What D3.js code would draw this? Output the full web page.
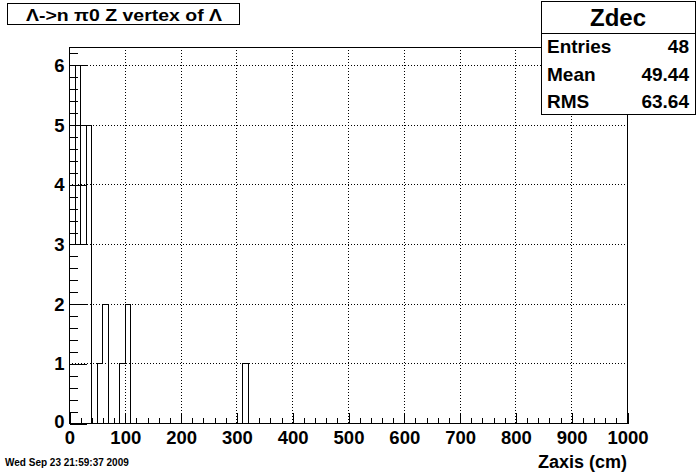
<!DOCTYPE html>
<html>
<head>
<meta charset="utf-8">
<script src="https://cdn.jsdelivr.net/npm/d3@7"></script>
<style>
  html, body { margin: 0; padding: 0; background: #fff; }
  svg { display: block; }
  text { font-family: "Liberation Sans", Arial, Helvetica, sans-serif; font-weight: bold; fill: #000; }
</style>
</head>
<body>
<svg id="chart" width="696" height="472"></svg>
<script>
// ---------------- data ----------------
const title = "\u039B->n \u03C00 Z vertex of \u039B";
const xAxisTitle = "Zaxis (cm)";
const dateText = "Wed Sep 23 21:59:37 2009";
const statsName = "Zdec";
const statsLabels = ["Entries", "Mean", "RMS"];
const statsValues = ["48", "49.44", "63.64"];
const xRange = [0, 1000];
const binWidth = 10;
// non-empty bins: lower edge (cm) and content
const binLow   = [0, 10, 20, 30, 50, 60, 90, 100, 310];
const binCount = [3,  6,  3,  5,  1,  2,  1,   2,   1];
// overlaid second outline (only a horizontal level is visible)
const overlayLow   = [10];
const overlayCount = [3];
const yMax = 6.3;
const xTickValues = [0, 100, 200, 300, 400, 500, 600, 700, 800, 900, 1000];
const yTickValues = [0, 1, 2, 3, 4, 5, 6];

// ---------------- layout ----------------
const svg = d3.select("#chart");
const L = 69, R = 627, T = 47, B = 423;
const x = d3.scaleLinear().domain(xRange).range([L, R]);
const y = d3.scaleLinear().domain([0, yMax]).range([B, T]);

// full bin array
const nBins = (xRange[1] - xRange[0]) / binWidth;
const counts = new Array(nBins).fill(0);
binLow.forEach((lo, i) => { counts[Math.round((lo - xRange[0]) / binWidth)] = binCount[i]; });

// grid
const grid = svg.append("g").attr("stroke", "#000").attr("stroke-width", 1)
  .attr("stroke-dasharray", "1,2").attr("shape-rendering", "crispEdges");
xTickValues.filter(v => v > xRange[0] && v < xRange[1]).forEach(v => {
  grid.append("line").attr("x1", Math.round(x(v)) + 0.5).attr("x2", Math.round(x(v)) + 0.5)
    .attr("y1", T).attr("y2", B);
});
yTickValues.filter(v => v > 0).forEach(v => {
  grid.append("line").attr("y1", Math.round(y(v)) + 0.5).attr("y2", Math.round(y(v)) + 0.5)
    .attr("x1", L).attr("x2", R);
});

// histogram outline (step)
const pts = [];
pts.push([xRange[0], 0]);
for (let i = 0; i < nBins; i++) {
  const lo = xRange[0] + i * binWidth, hi = lo + binWidth;
  pts.push([lo, counts[i]]);
  pts.push([hi, counts[i]]);
}
pts.push([xRange[1], 0]);
const line = d3.line().x(d => Math.round(x(d[0])) + 0.5).y(d => Math.round(y(d[1])) + 0.5);
svg.append("path").attr("d", line(pts)).attr("fill", "none").attr("stroke", "#000")
  .attr("stroke-width", 1).attr("shape-rendering", "crispEdges");

// overlay levels
overlayLow.forEach((lo, i) => {
  svg.append("line")
    .attr("x1", Math.round(x(lo)) + 0.5).attr("x2", Math.round(x(lo + binWidth)) + 0.5)
    .attr("y1", Math.round(y(overlayCount[i])) + 0.5).attr("y2", Math.round(y(overlayCount[i])) + 0.5)
    .attr("stroke", "#000").attr("shape-rendering", "crispEdges");
});

// frame
svg.append("rect").attr("x", L + 0.5).attr("y", T + 0.5).attr("width", R - L).attr("height", B - T)
  .attr("fill", "none").attr("stroke", "#000").attr("shape-rendering", "crispEdges");

// x axis
const xMajor = d3.axisBottom(x).tickValues(xTickValues).tickSize(-11).tickPadding(7).tickFormat(d3.format("d"));
const gx = svg.append("g").attr("transform", `translate(0.5,${B + 0.5})`).call(xMajor);
const xMinorVals = d3.range(xRange[0], xRange[1] + 1, 20).filter(v => v % 100 !== 0);
svg.append("g").attr("transform", `translate(0.5,${B + 0.5})`)
  .call(d3.axisBottom(x).tickValues(xMinorVals).tickSize(-5.5).tickFormat(""));

// y axis
const yMajor = d3.axisLeft(y).tickValues(yTickValues).tickSize(-17).tickPadding(5).tickFormat(d3.format("d"));
const gy = svg.append("g").attr("transform", `translate(${L + 0.5},0.5)`).call(yMajor);
const yMinorVals = d3.range(0, yMax + 0.001, 0.2).filter(v => Math.abs(v - Math.round(v)) > 1e-6);
svg.append("g").attr("transform", `translate(${L + 0.5},0.5)`)
  .call(d3.axisLeft(y).tickValues(yMinorVals).tickSize(-8.5).tickFormat(""));

svg.selectAll(".domain").remove();
svg.selectAll(".tick line").attr("stroke", "#000").attr("shape-rendering", "crispEdges");
svg.selectAll(".tick text").attr("font-family", "Liberation Sans, Arial, sans-serif")
  .attr("font-weight", "bold").attr("font-size", 18.5).attr("fill", "#000");
gy.selectAll(".tick").filter(d => d === 0).select("text").attr("dy", "0.2em");

// axis title
svg.append("text").attr("x", R).attr("y", 468).attr("text-anchor", "end")
  .attr("font-size", 18).text(xAxisTitle);

// date
svg.append("text").attr("x", 5).attr("y", 466).attr("font-size", 10).text(dateText);

// title box
svg.append("rect").attr("x", 7.5).attr("y", 3.5).attr("width", 232).attr("height", 21)
  .attr("fill", "#fff").attr("stroke", "#000").attr("shape-rendering", "crispEdges");
svg.append("text").attr("x", 124).attr("y", 20.5).attr("text-anchor", "middle")
  .attr("font-size", 17).attr("textLength", 196).attr("lengthAdjust", "spacingAndGlyphs").text(title);

// stats box
const sb = { x: 541, y: 1, w: 154, h: 113, sep: 33 };
svg.append("rect").attr("x", sb.x + 0.5).attr("y", sb.y + 0.5).attr("width", sb.w).attr("height", sb.h)
  .attr("fill", "#fff").attr("stroke", "#000").attr("shape-rendering", "crispEdges");
svg.append("line").attr("x1", sb.x).attr("x2", sb.x + sb.w).attr("y1", sb.sep + 0.5).attr("y2", sb.sep + 0.5)
  .attr("stroke", "#000").attr("shape-rendering", "crispEdges");
svg.append("text").attr("x", sb.x + sb.w / 2).attr("y", 26).attr("text-anchor", "middle")
  .attr("font-size", 24).text(statsName);
statsLabels.forEach((lab, i) => {
  const yy = 53 + i * 27.5;
  svg.append("text").attr("x", sb.x + 6).attr("y", yy).attr("font-size", 19).text(lab);
  svg.append("text").attr("x", sb.x + sb.w - 6).attr("y", yy).attr("text-anchor", "end")
    .attr("font-size", 19).text(statsValues[i]);
});
</script>
</body>
</html>
